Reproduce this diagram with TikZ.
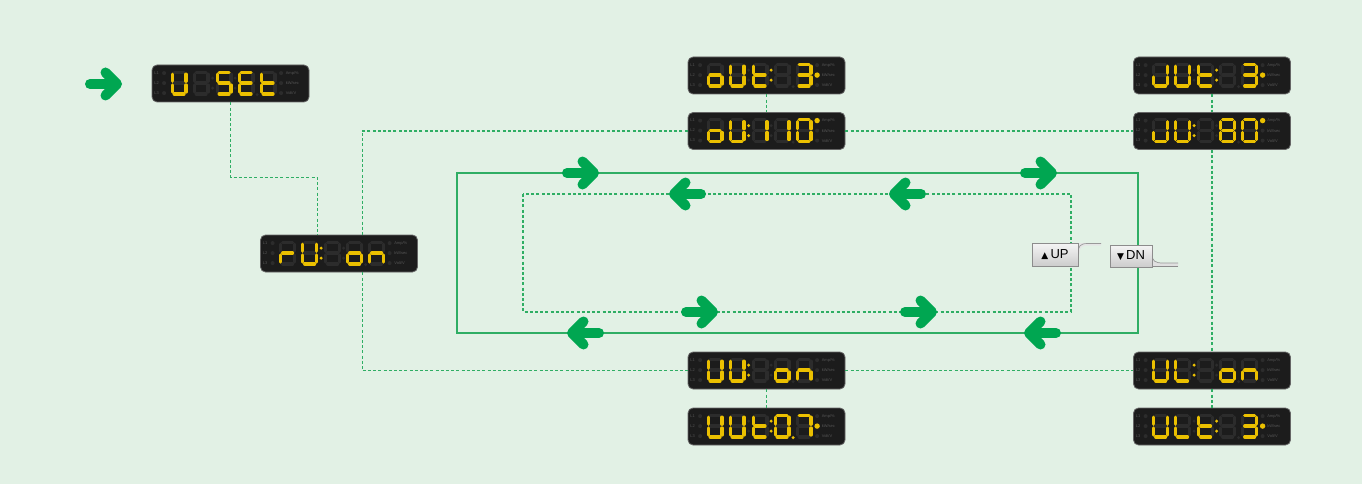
\documentclass[tikz,border=0pt]{standalone}
\usepackage{fontspec}
\setmainfont{Liberation Sans}
\newfontfamily\symfont{DejaVu Sans}
\usetikzlibrary{calc}
\definecolor{bg}{HTML}{E2F1E5}
\definecolor{gr}{HTML}{00A651}
\definecolor{ln}{HTML}{2FAE64}
\definecolor{lit}{HTML}{EBC000}
\definecolor{dimc}{HTML}{2C2C2C}
\definecolor{lcdbg}{HTML}{1C1C1C}
\definecolor{lbl}{HTML}{555555}

\tikzset{
  lcd/.style={draw=black!60, fill=lcdbg, rounded corners=5pt, minimum width=157pt,
    minimum height=37pt, inner sep=0pt, line width=0.8pt},
  dimseg/.style={draw=dimc, line width=3.3pt, line cap=round},
  litseg/.style={draw=lit, line width=3.3pt, line cap=round},
  tiny/.style={font=\fontsize{4}{4}\selectfont, text=lbl, inner sep=0pt},
  dconn/.style={draw=ln, line width=1.1pt, dash pattern=on 3pt off 2.2pt},
  sconn/.style={draw=ln, line width=1.3pt},
  arrw/.style={draw=gr, line width=10pt, line cap=round, line join=round},
  garr/.pic={\draw[arrw] (-32,0)--(-6,0); \draw[arrw] (-16.5,-11.5)--(-5,0)--(-16.5,11.5);},
  btn/.style={draw=black!45, top color=black!4, bottom color=black!20, inner sep=0pt,
    font=\fontsize{13}{13}\selectfont, text=black},
}

\def\sgpa#1{\draw[#1] (3.6,1.7)--(13.4,1.7);}
\def\sgpb#1{\draw[#1] (15.3,3.6)--(15.3,10.6);}
\def\sgpc#1{\draw[#1] (15.3,14.4)--(15.3,21.4);}
\def\sgpd#1{\draw[#1] (3.6,23.3)--(13.4,23.3);}
\def\sgpe#1{\draw[#1] (1.7,14.4)--(1.7,21.4);}
\def\sgpf#1{\draw[#1] (1.7,3.6)--(1.7,10.6);}
\def\sgpg#1{\draw[#1] (3.6,12.5)--(13.4,12.5);}
\def\sgpx#1{}

\def\segU{b,c,d,e,f}
\def\segu{b,c,d,e}
\def\segS{a,f,g,c,d}
\def\segE{a,f,g,e,d}
\def\segt{f,g,e,d}
\def\segr{e,g}
\def\sego{c,d,e,g}
\def\segn{c,e,g}
\def\segL{f,e,d}
\def\segiii{a,b,g,c,d}
\def\segi{b,c}
\def\segzero{a,b,c,d,e,f}
\def\segeight{a,b,c,d,e,f,g}
\def\segseven{a,b,c}
\def\segnone{x}

\def\lcdflagA{\fill[lit] (61,13.5) circle (1.7) (61,23.5) circle (1.7);}
\def\lcdflagB{\fill[lit] (83.5,13.5) circle (1.7) (83.5,23.5) circle (1.7);}
\def\lcdflagP{\fill[lit] (105.5,30) circle (1.7);}
\def\lcdflagx{}

\newcommand\lcddigit[2]{\begin{scope}[shift={(#1,6)}]
  \foreach \s in {a,b,c,d,e,f,g}{\csname sgp\s\endcsname{dimseg}}
  \foreach \s in #2{\csname sgp\s\endcsname{litseg}}
\end{scope}}

\newcommand\lcd[9]{%
\node[lcd] (#1) at (#2) {};
\begin{scope}[shift={(#1.north west)}]
  \foreach \r/\t in {1/L1,2/L2,3/L3}{
    \node[tiny] at (5,{10*\r-1.5}) {\t};
    \fill[dimc] (12.5,{10*\r-1.5}) circle (2);
    \fill[dimc] (129.5,{10*\r-1.5}) circle (2);
  }
  \node[tiny, anchor=west] at (134,8.5) {Amp/\%};
  \node[tiny, anchor=west] at (134,18.5) {kW/sec};
  \node[tiny, anchor=west] at (134,28.5) {Volt/V};
  \fill[dimc] (61,13.5) circle (1.7) (61,23.5) circle (1.7)
              (83.5,13.5) circle (1.7) (83.5,23.5) circle (1.7) (105.5,30) circle (1.7);
  \lcddigit{19}{#3}\lcddigit{41}{#4}\lcddigit{64}{#5}\lcddigit{86}{#6}\lcddigit{108}{#7}
  \foreach \f in {#8}{\csname lcdflag\f\endcsname}
  \ifnum#9>0 \fill[lit] (129.5,{10*#9-1.5}) circle (2.7);\fi
\end{scope}}

\begin{document}
\begin{tikzpicture}[x=1pt,y=-1pt]
\useasboundingbox (0,0) rectangle (1362,484);
\fill[bg] (0,0) rectangle (1362,484);

% loops
\draw[sconn] (457,173) rectangle (1138,333);
\draw[dconn] (523,194) rectangle (1071,312);

% displays
\lcd{dA}{230.5,83.5}{\segU}{\segnone}{\segS}{\segE}{\segt}{x}{0}
\lcd{dB}{339,253.5}{\segr}{\segU}{\segnone}{\sego}{\segn}{A}{0}
\lcd{dC}{766.5,75.5}{\sego}{\segU}{\segt}{\segnone}{\segiii}{B}{2}
\lcd{dD}{766.5,131}{\sego}{\segU}{\segi}{\segi}{\segzero}{A}{1}
\lcd{dE}{1212,75.5}{\segu}{\segU}{\segt}{\segnone}{\segiii}{B}{2}
\lcd{dF}{1212,131}{\segu}{\segU}{\segnone}{\segeight}{\segzero}{A}{1}
\lcd{dG}{766.5,370.5}{\segU}{\segU}{\segnone}{\sego}{\segn}{A}{0}
\lcd{dH}{766.5,426.5}{\segU}{\segU}{\segt}{\segzero}{\segseven}{B,P}{2}
\lcd{dI}{1212,370.5}{\segU}{\segL}{\segnone}{\sego}{\segn}{A}{0}
\lcd{dJ}{1212,426.5}{\segU}{\segL}{\segt}{\segnone}{\segiii}{B}{2}

% connectors
\coordinate (jA) at ($(dB.north west)+(57,0)$);
\coordinate (jB) at ($(dB.north west)+(102,0)$);
\coordinate (jC) at ($(dB.south west)+(102,0)$);
\draw[dconn] (dA.south) -- ++(0,75) -| (jA);
\draw[dconn] (dD.west) -| (jB);
\draw[dconn] (jC) |- (dG.west);
\draw[dconn] (dC.south) -- (dD.north);
\draw[dconn] (dE.south) -- (dF.north);
\draw[dconn] (dF.south) -- (dI.north);
\draw[dconn] (dD.east) -- (dF.west);
\draw[dconn] (dG.east) -- (dI.west);
\draw[dconn] (dG.south) -- (dH.north);
\draw[dconn] (dI.south) -- (dJ.north);

% arrows
\pic at (122,84) {garr};
\pic at (599,173) {garr};
\pic at (1057,173) {garr};
\pic[rotate=180] at (669,194) {garr};
\pic[rotate=180] at (889,194) {garr};
\pic at (718,312) {garr};
\pic at (937,312) {garr};
\pic[rotate=180] at (567,333) {garr};
\pic[rotate=180] at (1024,333) {garr};

% buttons
\fill[black!10] (1078,243) -- (1101,243) -- (1101,245.5) -- (1088,245.5)
  .. controls (1081,245.5) and (1079.5,248) .. (1079.5,254) -- (1078,254) -- cycle;
\draw[black!40, line width=0.7pt] (1078,254) .. controls (1078,246) and (1080,243.5) .. (1088,243.5) -- (1101,243.5);
\node[btn, minimum width=46pt, minimum height=23pt] (bUP) at (1055,254.5)
  {{\symfont\fontsize{9}{9}\selectfont ▲}\,UP};
\fill[black!12] (1152,254) .. controls (1152,261) and (1155,263) .. (1163,263) -- (1178,263)
  -- (1178,266.5) -- (1152,266.5) -- cycle;
\draw[black!40, line width=0.7pt] (1152,254) .. controls (1152,261) and (1155,263) .. (1163,263) -- (1178,263);
\draw[black!45, line width=0.7pt] (1152,266.5) -- (1178,266.5);
\node[btn, minimum width=42pt, minimum height=22pt] (bDN) at (1131,256)
  {{\symfont\fontsize{9}{9}\selectfont ▼}\,DN};
\end{tikzpicture}
\end{document}
